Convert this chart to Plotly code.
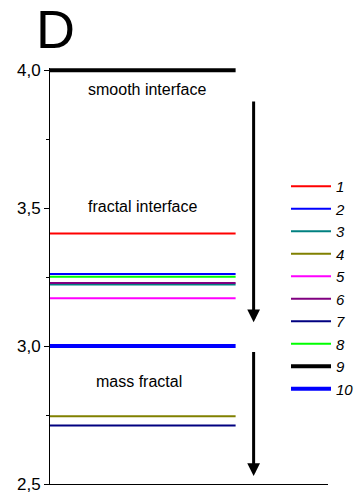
import plotly.graph_objects as go

series_names = ["1", "2", "3", "4", "5", "6", "7", "8", "9", "10"]
series_values = [3.408, 3.261, 3.223, 2.746, 3.173, 3.229, 2.712, 3.251, 4.0, 3.0]
series_colors = ["#FF0000", "#0000FF", "#008080", "#808000", "#FF00FF",
                 "#800080", "#000080", "#00FF00", "#000000", "#0000FF"]
series_widths = [2, 2, 2, 2, 2, 2, 2, 2, 4, 4]
line_x = [0, 1]

y_tick_vals = [2.5, 3.0, 3.5, 4.0]
y_tick_text = ["2,5", "3,0", "3,5", "4,0"]

region_labels = ["smooth interface", "fractal interface", "mass fractal"]
region_label_x = [0.522, 0.501, 0.482]
region_label_y = [3.931, 3.507, 2.870]

arrow_x = 1.097
arrow_tail_y = [3.892, 2.984]
arrow_head_y = [3.086, 2.529]

FONT = "Arial, Liberation Sans, sans-serif"

fig = go.Figure()
for name, v, c, w in zip(series_names, series_values, series_colors, series_widths):
    fig.add_trace(go.Scatter(x=line_x, y=[v, v], mode="lines", name=name,
                             line=dict(color=c, width=w), hoverinfo="skip"))

L, R, T, B = 50, 0, 68, 9
W, H = 359, 493
pw, ph = W - L - R, H - T - B

annotations = []
for t, x, y in zip(region_labels, region_label_x, region_label_y):
    annotations.append(dict(x=x, y=y, xref="x", yref="y", text=t, showarrow=False,
                            font=dict(family=FONT, size=16, color="#000")))
for ty, hy in zip(arrow_tail_y, arrow_head_y):
    annotations.append(dict(x=arrow_x, y=hy, ax=arrow_x, ay=ty, xref="x", yref="y",
                            axref="x", ayref="y", text="", showarrow=True,
                            arrowhead=2, arrowwidth=3, arrowsize=0.85, arrowcolor="#000"))
annotations.append(dict(x=(56 - L) / pw, y=(H - B - 29) / ph, xref="paper", yref="paper",
                        text="D", showarrow=False, xanchor="center", yanchor="middle",
                        font=dict(family=FONT, size=54, color="#000")))

fig.update_layout(
    width=W, height=H,
    margin=dict(l=L, r=R, t=T, b=B),
    paper_bgcolor="white", plot_bgcolor="white",
    font=dict(family=FONT, size=17, color="#000"),
    showlegend=True,
    legend=dict(x=(290 - L) / pw, y=(H - B - 170) / ph, xanchor="left", yanchor="top",
                font=dict(family=FONT, size=15, style="italic", color="#000"),
                bgcolor="rgba(0,0,0,0)", itemwidth=40, tracegroupgap=0),
    annotations=annotations,
    xaxis=dict(range=[0, 1.5], domain=[0, 283 / pw], showline=True, linecolor="#000",
               linewidth=1, showticklabels=False, ticks="", showgrid=False,
               zeroline=False, fixedrange=True),
    yaxis=dict(range=[2.5, 4.008], showline=True, linecolor="#000", linewidth=1,
               tickvals=y_tick_vals, ticktext=y_tick_text, ticks="outside",
               ticklen=5, tickcolor="#000", showgrid=False, zeroline=False,
               ticklabeloverflow="allow",
               tickfont=dict(family=FONT, size=17, color="#000"),
               minor=dict(tickvals=[2.75, 3.25, 3.75], ticks="outside", ticklen=3,
                          tickcolor="#000", showgrid=False)),
)

fig.write_html("out.html")
